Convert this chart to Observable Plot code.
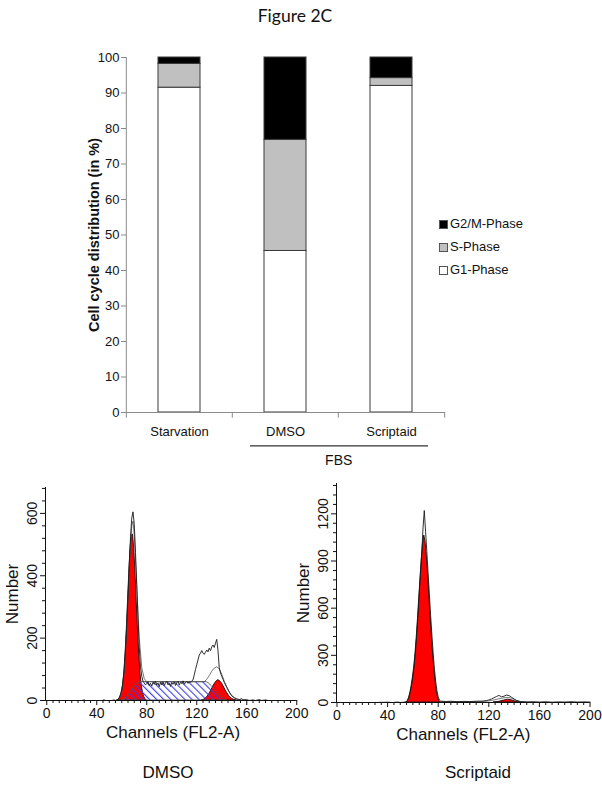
<!DOCTYPE html>
<html><head><meta charset="utf-8">
<script src="https://cdn.jsdelivr.net/npm/d3@7"></script>
<script src="https://cdn.jsdelivr.net/npm/@observablehq/plot@0.6"></script>
<style>
body{margin:0;background:#fff;}
#wrap{position:relative;width:602px;height:786px;overflow:hidden;font-family:"Liberation Sans",Arial,sans-serif;color:#111;}
.abs{position:absolute;white-space:nowrap;}
svg{overflow:visible;}
.sw{position:absolute;width:7px;height:7px;border:1px solid #555;}
</style></head><body><div id="wrap"></div>
<script>
// ---------- Bar chart data ----------
const title = "Figure 2C";
const categories = ["Starvation", "DMSO", "Scriptaid"];
const phases = ["G1-Phase", "S-Phase", "G2/M-Phase"];
const phaseColors = ["#ffffff", "#c0c0c0", "#000000"];
const g1Values = [91.5, 45.5, 92.0];
const sValues = [6.7, 31.3, 2.2];
const g2Values = [1.8, 23.2, 5.8];
const yTicks = [0, 10, 20, 30, 40, 50, 60, 70, 80, 90, 100];
const yLabel = "Cell cycle distribution (in %)";
const groupLabel = "FBS";
const groupMembers = ["DMSO", "Scriptaid"];

// ---------- Histogram data (channel, count) ----------
const xMajor = [0, 40, 80, 120, 160, 200];
const xMinor = [5,10,15,20,25,30,35,45,50,55,60,65,70,75,85,90,95,100,105,110,115,125,130,135,140,145,150,155,165,170,175,180,185,190,195];
const dmsoYMajor = [0, 200, 400, 600];
const dmsoYMinor = [40, 80, 120, 160, 240, 280, 320, 360, 440, 480, 520, 560, 640, 680];
const scrYMajor = [0, 300, 600, 900, 1200];
const scrYMinor = [60, 120, 180, 240, 360, 420, 480, 540, 660, 720, 780, 840, 960, 1020, 1080, 1140, 1260, 1320, 1380];

const dmsoRaw = [[0,0],[28,0],[30,2],[31,0],[44,0],[46,2],[47,0],[52,0],[54,2],[55,0],[57,4],[58,10],[59,20],[60,36],[61,62],[62,102],[63,165],[64,245],[65,335],[66,435],[67,525],[68,585],[69,605],[70,565],[71,475],[72,372],[73,262],[74,170],[75,108],[76,78],[77,62],[78,56],[79,50],[80,54],[81,60],[82,48],[83,55],[84,46],[85,58],[86,52],[87,62],[88,50],[89,56],[90,44],[91,58],[92,50],[93,60],[94,48],[95,56],[96,62],[97,50],[98,55],[99,45],[100,58],[101,52],[102,60],[103,48],[104,57],[105,62],[106,50],[107,58],[108,54],[109,63],[110,52],[111,58],[112,61],[113,55],[114,60],[115,58],[116,63],[117,66],[118,82],[119,100],[120,115],[121,130],[122,146],[123,152],[124,160],[125,152],[126,148],[127,155],[128,162],[129,156],[130,168],[131,160],[132,172],[133,178],[134,170],[135,184],[136,196],[137,160],[138,105],[139,88],[140,78],[141,68],[142,58],[143,50],[144,42],[145,34],[146,27],[147,20],[148,15],[150,9],[152,5],[154,3],[156,6],[157,2],[160,3],[162,0],[165,2],[167,0],[170,3],[172,0],[175,2],[177,0],[200,0]];
const dmsoFit = [[55,0],[58,6],[60,25],[62,90],[64,235],[66,425],[68,560],[69,575],[70,530],[72,365],[74,200],[76,105],[78,70],[80,60],[126,60],[128,68],[130,80],[132,94],[134,104],[136,108],[138,102],[140,84],[142,62],[144,44],[146,28],[148,16],[150,9],[152,5],[155,2],[160,0]];
const dmsoG1 = [[57,0],[58,4],[59,11],[60,24],[61,47],[62,86],[63,145],[64,223],[65,315],[66,408],[67,485],[68,529],[69,532],[70,485],[71,408],[72,315],[73,223],[74,145],[75,86],[76,47],[77,24],[78,11],[79,4],[80,0]];
const dmsoS = [[60,0],[62,3],[64,10],[66,20],[68,32],[70,43],[72,52],[74,57],[76,59],[128,59],[130,54],[132,46],[134,37],[136,28],[138,19],[140,11],[142,4],[144,0]];
const dmsoG2 = [[124,0],[126,3],[128,9],[130,20],[132,35],[134,51],[136,62],[137,65],[138,64],[140,56],[142,41],[144,26],[146,14],[148,6],[150,2],[152,0]];

const scrRaw = [[0,0],[30,0],[40,2],[44,0],[48,3],[50,0],[53,2],[55,6],[56,16],[57,36],[58,70],[59,110],[60,165],[61,230],[62,320],[63,430],[64,555],[65,690],[66,820],[67,950],[68,1110],[69,1221],[70,1090],[71,960],[72,825],[73,690],[74,555],[75,430],[76,315],[77,215],[78,135],[79,75],[80,35],[81,15],[82,9],[86,6],[90,8],[95,5],[100,7],[105,6],[110,8],[115,9],[118,12],[120,16],[122,22],[124,30],[126,38],[128,45],[130,36],[132,40],[134,47],[136,44],[138,33],[140,22],[142,13],[145,6],[150,4],[155,5],[160,3],[165,5],[170,2],[175,4],[180,3],[185,5],[190,3],[195,4],[200,3]];
const scrFit = [[82,6],[115,6],[120,10],[124,16],[128,24],[132,30],[135,32],[138,27],[141,16],[144,7],[148,3],[152,0]];
const scrG1 = [[55,0],[56,10],[57,30],[58,62],[59,105],[60,158],[61,222],[62,305],[63,410],[64,530],[65,660],[66,790],[67,910],[68,1010],[69,1062],[70,1020],[71,930],[72,810],[73,680],[74,545],[75,420],[76,305],[77,205],[78,125],[79,65],[80,25],[81,8],[82,0]];
const scrG2 = [[124,0],[128,4],[132,12],[135,18],[138,14],[141,6],[145,0]];

const xAxisLabel = "Channels (FL2-A)";
const yAxisLabel = "Number";
const panelCaptions = ["DMSO", "Scriptaid"];

// ---------- Build page ----------
const wrap = document.getElementById("wrap");
function addDiv(text, css) { const d = document.createElement("div"); d.className = "abs"; d.textContent = text; Object.assign(d.style, css); wrap.appendChild(d); return d; }
function place(el, left, top) { el.style.position = "absolute"; el.style.left = left + "px"; el.style.top = top + "px"; wrap.appendChild(el); }

addDiv(title, {left: "0px", width: "590px", top: "5px", textAlign: "center", fontFamily: "Lato, 'Open Sans', sans-serif", fontSize: "17.5px", color: "#111"});

const barData = categories.flatMap((c, i) => [
  {cat: c, phase: phases[0], v: g1Values[i]},
  {cat: c, phase: phases[1], v: sValues[i]},
  {cat: c, phase: phases[2], v: g2Values[i]}
]);
const halfStep = 53.2;
const bar = Plot.plot({
  width: 602, height: 480,
  marginTop: 57, marginBottom: 68, marginLeft: 126, marginRight: 157,
  style: {fontFamily: "'Liberation Sans', Arial, sans-serif", fontSize: "13px", color: "#111", background: "transparent"},
  x: {domain: categories, paddingInner: 0.6, paddingOuter: 0.3, axis: null},
  y: {domain: [0, 100], axis: null},
  color: {domain: phases, range: phaseColors},
  marks: [
    Plot.barY(barData, {x: "cat", y: "v", fill: "phase", stroke: "#3a3a3a", strokeWidth: 1}),
    Plot.ruleY([0], {stroke: "#8a8a8a"}),
    Plot.ruleX([categories[0]], {dx: -halfStep, stroke: "#8a8a8a"}),
    Plot.ruleX(categories, {x: d => d, dx: -halfStep, y1: 0, y2: -1.6, stroke: "#8a8a8a"}),
    Plot.ruleX([categories[2]], {dx: halfStep, y1: 0, y2: -1.6, stroke: "#8a8a8a"}),
    Plot.axisY({ticks: yTicks, tickSize: 5, tickPadding: 2, fontSize: 13, label: null, stroke: "#8a8a8a", fill: "#111"}),
    Plot.axisX({tickSize: 0, tickPadding: 14, fontSize: 13, label: null, fill: "#111"}),
    Plot.text([yLabel], {frameAnchor: "left", dx: -32, rotate: -90, textAnchor: "middle", lineAnchor: "middle", fontWeight: "bold", fontSize: 14.5, fill: "#111"}),
    Plot.ruleY([-9.4], {x1: () => groupMembers[0], x2: () => groupMembers[1], insetLeft: -14, insetRight: -16, stroke: "#333", strokeWidth: 1.2}),
    Plot.text([groupLabel], {x: () => groupMembers[0], y: -13.6, dx: halfStep, fontSize: 14, fill: "#111"})
  ]
});
place(bar, 0, 0);

// legend (top to bottom: G2/M, S, G1)
const legendOrder = [2, 1, 0];
legendOrder.forEach((pi, k) => {
  const sw = document.createElement("div"); sw.className = "sw";
  sw.style.left = "439px"; sw.style.top = (220 + k * 23) + "px"; sw.style.background = phaseColors[pi];
  wrap.appendChild(sw);
  addDiv(phases[pi], {left: "450px", top: (216 + k * 23) + "px", fontSize: "13px", color: "#111"});
});

function hatchDefs(id) {
  const defs = d3.create("svg:defs");
  const p = defs.append("pattern").attr("id", id).attr("patternUnits", "userSpaceOnUse")
    .attr("width", 5).attr("height", 5).attr("patternTransform", "rotate(-45)");
  p.append("line").attr("x1", 0.6).attr("y1", 0).attr("x2", 0.6).attr("y2", 5).attr("stroke", "#3a3ae6").attr("stroke-width", 1.1);
  return defs.node();
}

function hist({id, raw, fit, g1, s, g2, yDomain, yMajor, yMinor, xDomain, width, height, marginLeft, marginRight, marginTop, marginBottom}) {
  const marks = [() => hatchDefs(id)];
  marks.push(Plot.areaY(g1, {x: d => d[0], y: d => d[1], fill: "#ff0000", stroke: "#111", strokeWidth: 0.9}));
  marks.push(Plot.areaY(g2, {x: d => d[0], y: d => d[1], fill: "#ff0000", stroke: "#111", strokeWidth: 0.9}));
  if (s) marks.push(Plot.areaY(s, {x: d => d[0], y: d => d[1], fill: `url(#${id})`, stroke: "#555", strokeWidth: 0.9}));
  marks.push(Plot.line(fit, {x: d => d[0], y: d => d[1], stroke: "#555", strokeWidth: 0.8}));
  marks.push(Plot.line(raw, {x: d => d[0], y: d => d[1], stroke: "#1a1a1a", strokeWidth: 0.9}));
  marks.push(Plot.ruleX([xDomain[0]], {stroke: "#111"}));
  marks.push(Plot.ruleY([0], {x1: xDomain[0], x2: xMajor[xMajor.length - 1], stroke: "#111"}));
  marks.push(Plot.axisX({ticks: xMajor, tickSize: 5, tickPadding: 3, fontSize: 14, label: null, stroke: "#111", fill: "#111"}));
  marks.push(Plot.axisX({ticks: xMinor, tickSize: 3, tickFormat: () => "", label: null, stroke: "#111"}));
  marks.push(Plot.axisY({ticks: yMajor, tickSize: 5, tickFormat: () => "", label: null, stroke: "#111"}));
  marks.push(Plot.axisY({ticks: yMinor, tickSize: 3, tickFormat: () => "", label: null, stroke: "#111"}));
  marks.push(Plot.text(yMajor, {y: d => d, text: d => String(d), frameAnchor: "left", dx: -13, rotate: -90, textAnchor: "middle", lineAnchor: "middle", fontSize: 14, fill: "#111"}));
  marks.push(Plot.text([yAxisLabel], {frameAnchor: "left", dx: -33, rotate: -90, textAnchor: "middle", lineAnchor: "middle", fontSize: 17, fill: "#111"}));
  marks.push(Plot.text([xAxisLabel], {frameAnchor: "bottom", dy: 37, fontSize: 17, fill: "#111"}));
  return Plot.plot({
    width, height, marginLeft, marginRight, marginTop, marginBottom,
    style: {fontFamily: "'Liberation Sans', Arial, sans-serif", background: "transparent", color: "#111"},
    x: {domain: xDomain, axis: null},
    y: {domain: yDomain, axis: null},
    marks
  });
}

const dmsoPlot = hist({id: "hatchDmso", raw: dmsoRaw, fit: dmsoFit, g1: dmsoG1, s: dmsoS, g2: dmsoG2,
  yDomain: [0, 683], yMajor: dmsoYMajor, yMinor: dmsoYMinor, xDomain: [-1, 203],
  width: 300, height: 300, marginLeft: 45, marginRight: 0, marginTop: 7, marginBottom: 80});
place(dmsoPlot, 0, 480);

const scrPlot = hist({id: "hatchScr", raw: scrRaw, fit: scrFit, g1: scrG1, s: null, g2: scrG2,
  yDomain: [0, 1393], yMajor: scrYMajor, yMinor: scrYMinor, xDomain: [-0.4, 200],
  width: 312, height: 300, marginLeft: 46, marginRight: 12.5, marginTop: 3, marginBottom: 78});
place(scrPlot, 290, 480);

addDiv(panelCaptions[0], {left: "68px", width: "200px", textAlign: "center", top: "763px", fontSize: "17px"});
addDiv(panelCaptions[1], {left: "378px", width: "200px", textAlign: "center", top: "763px", fontSize: "17px"});
</script></body></html>
